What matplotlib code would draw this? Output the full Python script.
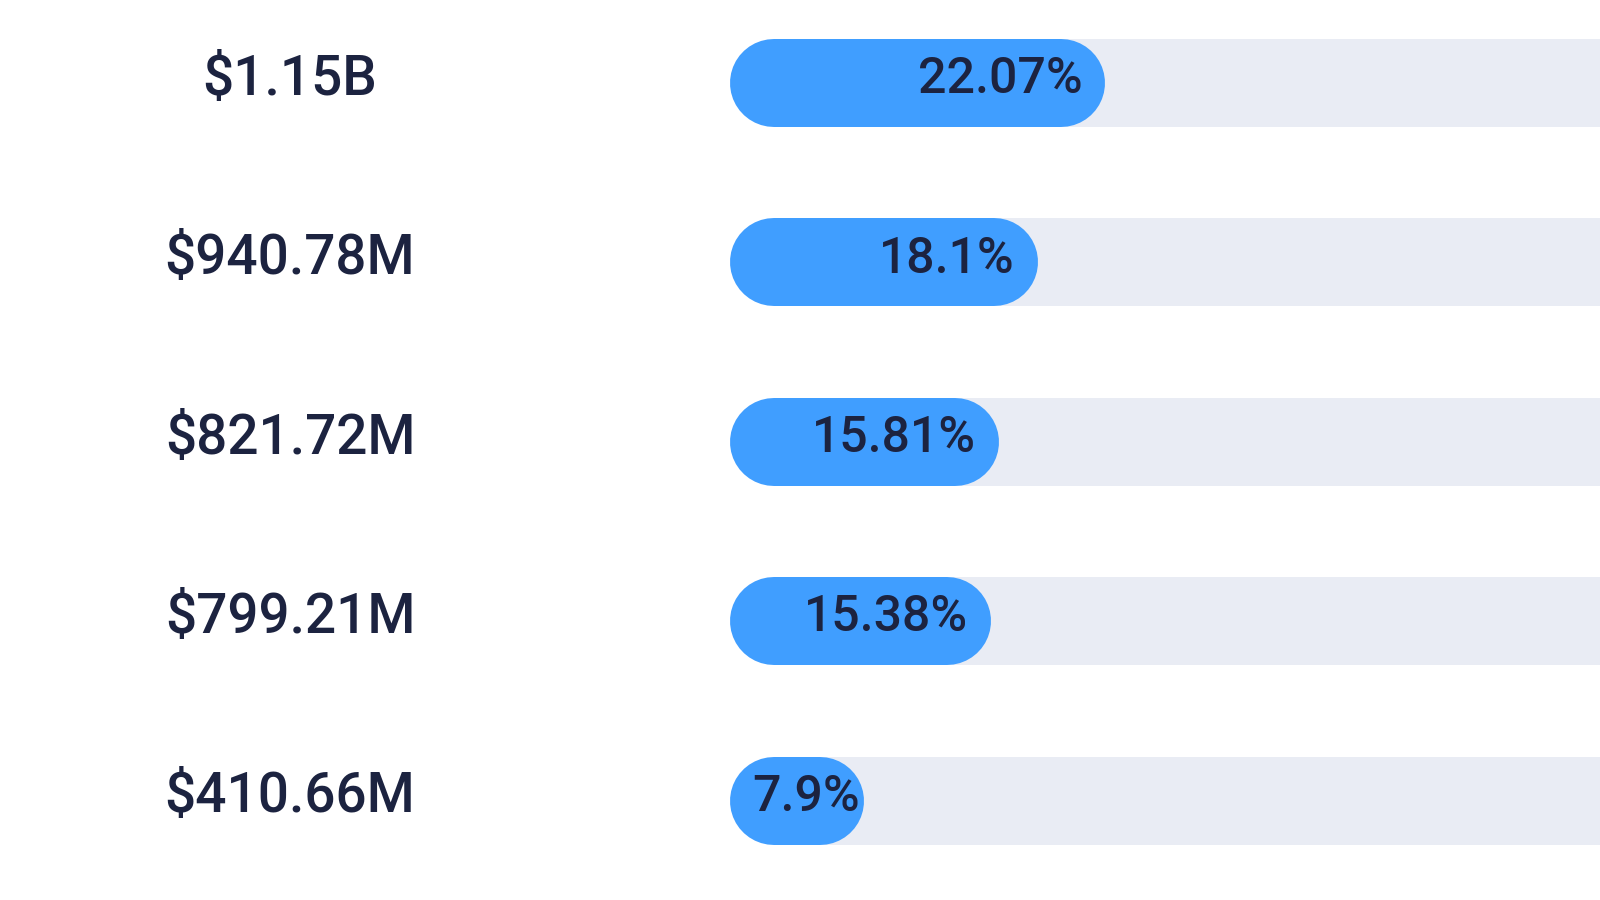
import matplotlib
matplotlib.use('Agg')
import matplotlib.pyplot as plt
from matplotlib.transforms import blended_transform_factory

amounts = ['$1.15B', '$940.78M', '$821.72M', '$799.21M', '$410.66M']
shares = [22.07, 18.1, 15.81, 15.38, 7.9]

plt.rcParams['font.family'] = ['Roboto', 'DejaVu Sans']
txt_col = '#1c2340'
blue = '#409eff'
track = '#e9ecf4'

W, H = 1600, 900
px_per_pct = 17.0
x0_px = 730
row_gap = 179.45
row0 = 82.7
bar_h_px = 88

fig = plt.figure(figsize=(16, 9), dpi=100)
ax = fig.add_axes([x0_px / W, 0, 1 - x0_px / W, 1])
ax.set_xlim(0, (W - x0_px) / px_per_pct)
ax.set_ylim(4 + (H - (row0 + 4 * row_gap)) / row_gap, -row0 / row_gap)
ax.axis('off')

n = len(shares)
ys = list(range(n))
bh = bar_h_px / row_gap
r = (bar_h_px / 2) / px_per_pct  # cap radius in data units
lw = bar_h_px * 72 / 100

# grey track out to 100%, starting under the rounded blue end
ax.barh(ys, [100] * n, height=bh, color=track, left=r)

for y, v in zip(ys, shares):
    ax.plot([r, v - r], [y, y], color=blue, lw=lw, solid_capstyle='round')

fig.canvas.draw()
rend = fig.canvas.get_renderer()
for y, v in zip(ys, shares):
    t = ax.text(0, y - 0.02, f'{v}%', fontsize=36, fontweight='medium',
                color=txt_col, ha='left', va='center')
    w = t.get_window_extent(rend).width / px_per_pct
    left = max(v - 23 / px_per_pct - w, 22 / px_per_pct)
    t.set_x(left)

tr = blended_transform_factory(fig.transFigure, ax.transData)
for y, a in zip(ys, amounts):
    ax.text(290 / W, y - 0.02, a, transform=tr, fontsize=39.5,
            fontweight='medium', color=txt_col, ha='center', va='center')

fig.savefig('out.png', dpi=100, facecolor='white')
